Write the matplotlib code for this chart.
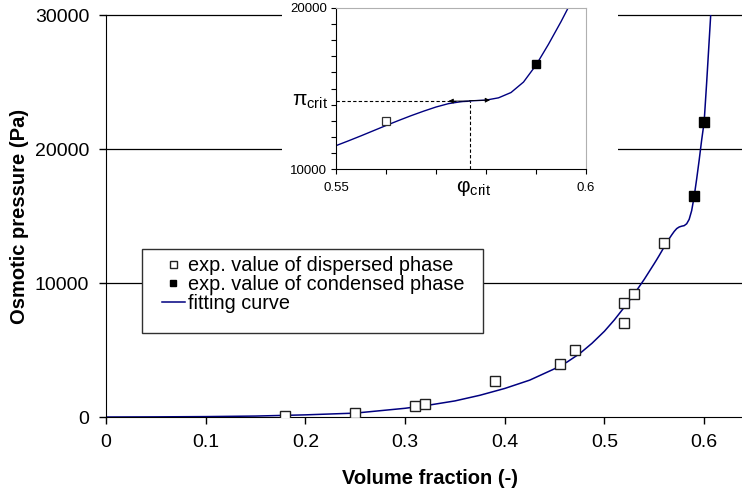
import matplotlib
matplotlib.use("Agg")
import matplotlib.pyplot as plt
from matplotlib.patches import Rectangle

plt.rcParams['font.family'] = ['Liberation Sans', 'DejaVu Sans']

# experimental points
disp_x = [0.18, 0.25, 0.31, 0.32, 0.39, 0.455, 0.47, 0.52, 0.52, 0.53, 0.56]
disp_y = [80, 280, 820, 970, 2700, 3950, 5000, 7000, 8500, 9200, 13000]
cond_x = [0.59, 0.60]
cond_y = [16500, 22000]

# fitting curve
fit_x = [0.00, 0.05, 0.10, 0.15, 0.20, 0.25, 0.30, 0.325, 0.35, 0.375, 0.40,
         0.425, 0.45, 0.4625, 0.475, 0.4875, 0.50, 0.51, 0.52, 0.53, 0.54,
         0.55, 0.5525, 0.555, 0.5575, 0.56, 0.5625, 0.565, 0.5675, 0.57,
         0.5725, 0.575, 0.5775, 0.58, 0.5825, 0.585, 0.5875, 0.59, 0.5925,
         0.595, 0.5975, 0.60, 0.6025, 0.605, 0.607]
fit_y = [0, 10, 30, 70, 160, 290, 650, 900, 1200, 1620, 2130,
         2750, 3600, 4100, 4720, 5500, 6400, 7250, 8200, 9200, 10280,
         11450, 11750, 12060, 12380, 12700, 13010, 13310, 13590, 13850,
         14060, 14180, 14240, 14280, 14420, 14750, 15400, 16450, 17750,
         19150, 20650, 22000, 24900, 28000, 30500]

phi_crit = 0.5767
pi_crit = 14220

W, H = 742, 495
fig = plt.figure(figsize=(W / 100, H / 100), dpi=100)

# main axes
ax = fig.add_axes([106 / W, 1 - 417 / H, 636 / W, 402 / H])
ax.plot(fit_x, fit_y, color='#000080', lw=1.1, zorder=2, label='fitting curve')
ax.plot(disp_x, disp_y, 's', ms=7.2, mfc='white', mec='#202020', mew=1.0,
        zorder=3, label='exp. value of dispersed phase')
ax.plot(cond_x, cond_y, 's', ms=7, mfc='black', mec='black', zorder=3,
        label='exp. value of condensed phase')

ax.set_xlim(0, 0.638)
ax.set_ylim(0, 30000)
ax.set_xticks([0, 0.1, 0.2, 0.3, 0.4, 0.5, 0.6])
ax.set_xticklabels(['0', '0.1', '0.2', '0.3', '0.4', '0.5', '0.6'])
ax.set_yticks([0, 10000, 20000, 30000])
ax.tick_params(labelsize=14, length=5, width=1, direction='out', pad=7)
for y in [10000, 20000, 30000]:
    ax.axhline(y, color='black', lw=0.9, zorder=1, clip_on=False)
ax.spines['top'].set_visible(False)
ax.spines['right'].set_visible(False)
ax.set_xlabel('Volume fraction (-)', fontsize=14.5, fontweight='bold')
ax.set_ylabel('Osmotic pressure (Pa)', fontsize=14.5, fontweight='bold')
ax.xaxis.set_label_coords(0.509, -0.13)
ax.yaxis.set_label_coords(-0.121, 0.5)

handles, labels = ax.get_legend_handles_labels()
order = [1, 2, 0]
leg = ax.legend([handles[i] for i in order], [labels[i] for i in order],
                loc='upper left', bbox_to_anchor=(56 / 636, 161 / 402),
                borderaxespad=0, borderpad=0, fontsize=14.3, markerscale=0.7,
                handlelength=1.15, handletextpad=0.15, labelspacing=0.0,
                frameon=False)
ax.add_patch(Rectangle((36 / 636, 84 / 402), 341 / 636, 84 / 402,
                       transform=ax.transAxes, facecolor='white',
                       edgecolor='#303030', lw=1.0, zorder=4))
leg.set_zorder(5)

# white area behind inset
fig.add_artist(Rectangle((282 / W, 1 - 197 / H), (618 - 282) / W, 197 / H,
                         transform=fig.transFigure, facecolor='white',
                         edgecolor='none', zorder=1))

# inset
axi = fig.add_axes([336 / W, 1 - 169 / H, 250 / W, 161 / H], zorder=2)
axi.plot(fit_x, fit_y, color='#000080', lw=1.0, zorder=2)
axi.plot(disp_x, disp_y, 's', ms=5.5, mfc='white', mec='#303030', mew=0.9, zorder=3)
axi.plot(cond_x, cond_y, 's', ms=6, mfc='black', mec='black', zorder=3)
axi.set_xlim(0.55, 0.6)
axi.set_ylim(10000, 20000)
axi.set_xticks([0.55, 0.56, 0.57, 0.58, 0.59, 0.6])
axi.set_xticklabels(['0.55', '', '', '', '', '0.6'])
axi.set_yticks([10000 + 1000 * i for i in range(11)])
axi.set_yticklabels(['10000'] + [''] * 9 + ['20000'])
axi.tick_params(labelsize=9.5, length=3.5, width=0.8, direction='out', pad=3)
axi.tick_params(axis='x', pad=6)
for s in ['top', 'right']:
    axi.spines[s].set_color('#b0b0b0')
for s in ['left', 'bottom']:
    axi.spines[s].set_color('black')

axi.plot([0.55, phi_crit], [pi_crit, pi_crit], color='black', lw=0.8,
         ls=(0, (3, 2)), zorder=1)
axi.plot([phi_crit, phi_crit], [10000, pi_crit], color='black', lw=0.8,
         ls=(0, (3, 2)), zorder=1)
axi.annotate('', xy=(0.5725, pi_crit), xytext=(0.5767, pi_crit),
             arrowprops=dict(arrowstyle='-|>', color='black', lw=0.6,
                             mutation_scale=7, shrinkA=0, shrinkB=0))
axi.annotate('', xy=(0.5808, 14280), xytext=(0.5767, 14250),
             arrowprops=dict(arrowstyle='-|>', color='black', lw=0.6,
                             mutation_scale=7, shrinkA=0, shrinkB=0))

axi.text(-0.03, (pi_crit - 10000) / 10000, r'$\mathregular{π_{crit}}$', fontsize=15,
         transform=axi.transAxes, ha='right', va='center')
axi.text(phi_crit + 0.0008, -0.12, r'$\mathregular{φ_{crit}}$', fontsize=15,
         transform=axi.get_xaxis_transform(), ha='center', va='center')

fig.savefig('out.png', dpi=100)
